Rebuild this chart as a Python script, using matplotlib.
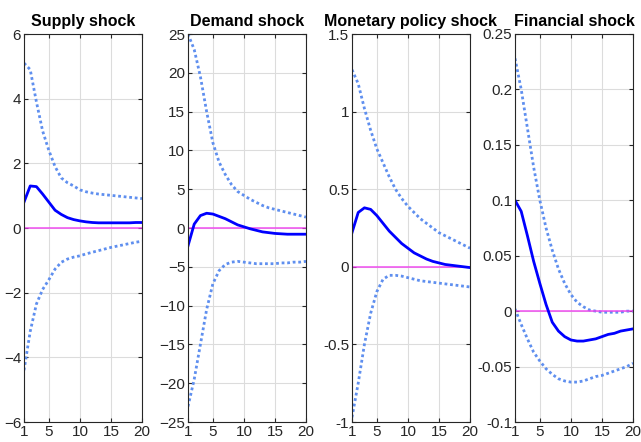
import numpy as np
import matplotlib
matplotlib.use('Agg')
import matplotlib.pyplot as plt

plt.rcParams['font.family'] = ['Liberation Sans', 'DejaVu Sans']

h = np.arange(1, 21)
titles = ['Supply shock', 'Demand shock', 'Monetary policy shock', 'Financial shock']

supply_med = [0.8, 1.3, 1.28, 1.05, 0.8, 0.55, 0.42, 0.32, 0.26, 0.22,
              0.19, 0.17, 0.16, 0.16, 0.16, 0.16, 0.16, 0.16, 0.17, 0.17]
supply_up = [5.1, 4.9, 3.9, 3.0, 2.4, 1.9, 1.55, 1.4, 1.3, 1.18,
             1.12, 1.08, 1.05, 1.03, 1.01, 0.99, 0.97, 0.95, 0.93, 0.91]
supply_lo = [-4.4, -3.2, -2.35, -1.9, -1.6, -1.27, -1.06, -0.96, -0.9, -0.86,
             -0.8, -0.75, -0.7, -0.65, -0.6, -0.56, -0.52, -0.48, -0.44, -0.41]

demand_med = [-2.3, 0.5, 1.6, 1.9, 1.8, 1.5, 1.2, 0.8, 0.4, 0.15,
              -0.1, -0.3, -0.5, -0.6, -0.7, -0.75, -0.8, -0.8, -0.8, -0.8]
demand_up = [25.0, 23.0, 19.5, 15.0, 11.0, 8.5, 6.9, 5.6, 4.7, 4.2,
             3.7, 3.3, 2.9, 2.6, 2.4, 2.2, 2.0, 1.8, 1.6, 1.4]
demand_lo = [-23.0, -19.5, -15.0, -10.5, -7.2, -5.5, -4.7, -4.4, -4.3, -4.4,
             -4.5, -4.6, -4.6, -4.6, -4.6, -4.5, -4.5, -4.4, -4.4, -4.3]

money_med = [0.22, 0.35, 0.38, 0.37, 0.33, 0.28, 0.23, 0.19, 0.15, 0.12,
             0.09, 0.07, 0.05, 0.035, 0.025, 0.015, 0.01, 0.005, 0.0, -0.005]
money_up = [1.27, 1.18, 1.02, 0.88, 0.76, 0.67, 0.58, 0.5, 0.44, 0.39,
            0.35, 0.31, 0.28, 0.25, 0.22, 0.2, 0.18, 0.16, 0.14, 0.12]
money_lo = [-0.97, -0.75, -0.5, -0.3, -0.16, -0.08, -0.055, -0.055, -0.06, -0.07,
            -0.08, -0.09, -0.095, -0.1, -0.105, -0.11, -0.115, -0.12, -0.125, -0.13]

fin_med = [0.1, 0.09, 0.068, 0.045, 0.025, 0.006, -0.01, -0.018, -0.023, -0.026,
           -0.027, -0.027, -0.026, -0.025, -0.023, -0.021, -0.02, -0.018, -0.017, -0.016]
fin_up = [0.228, 0.2, 0.165, 0.13, 0.1, 0.075, 0.055, 0.038, 0.025, 0.015,
          0.008, 0.004, 0.001, 0.0, -0.001, -0.001, -0.001, -0.001, 0.0, 0.0]
fin_lo = [0.002, -0.012, -0.025, -0.037, -0.045, -0.052, -0.057, -0.061, -0.063, -0.064,
          -0.064, -0.063, -0.061, -0.059, -0.058, -0.056, -0.054, -0.052, -0.05, -0.047]

meds = [supply_med, demand_med, money_med, fin_med]
ups = [supply_up, demand_up, money_up, fin_up]
los = [supply_lo, demand_lo, money_lo, fin_lo]

ylims = [(-6, 6), (-25, 25), (-1, 1.5), (-0.1, 0.25)]
yticks = [np.arange(-6, 7, 2), np.arange(-25, 26, 5),
          [-1, -0.5, 0, 0.5, 1, 1.5], [-0.1, -0.05, 0, 0.05, 0.1, 0.15, 0.2, 0.25]]
ylabels = [None, None, ['-1', '-0.5', '0', '0.5', '1', '1.5'],
           ['-0.1', '-0.05', '0', '0.05', '0.1', '0.15', '0.2', '0.25']]

fig = plt.figure(figsize=(6.41, 4.42), dpi=100)
lefts = [24, 188, 352, 515]
W, H = 641, 442
axc = '#262626'
for i in range(4):
    ax = fig.add_axes([lefts[i] / W, (H - 422) / H, 118 / W, 388 / H])
    ax.plot(h, ups[i], linestyle=(0, (1, 1)), color='#5F8FEF', lw=2.0)
    ax.plot(h, los[i], linestyle=(0, (1, 1)), color='#5F8FEF', lw=2.0)
    ax.axhline(0, color='#F040F0', lw=1.2, alpha=0.85)
    ax.plot(h, meds[i], '-', color='#0000FF', lw=2.0)
    ax.set_xlim(1, 20)
    ax.set_ylim(*ylims[i])
    ax.set_xticks([1, 5, 10, 15, 20])
    ax.set_yticks(yticks[i])
    if ylabels[i] is not None:
        ax.set_yticklabels(ylabels[i])
    ax.grid(True, color='#DCDCDC', lw=0.8)
    ax.tick_params(direction='in', top=True, right=True, length=3,
                   labelsize=11, colors=axc, pad=2)
    for s in ax.spines.values():
        s.set_color(axc)
        s.set_linewidth(0.8)
    ax.set_title(titles[i], fontsize=11.5, fontweight='bold', pad=6)

fig.savefig('out.png', dpi=100)
